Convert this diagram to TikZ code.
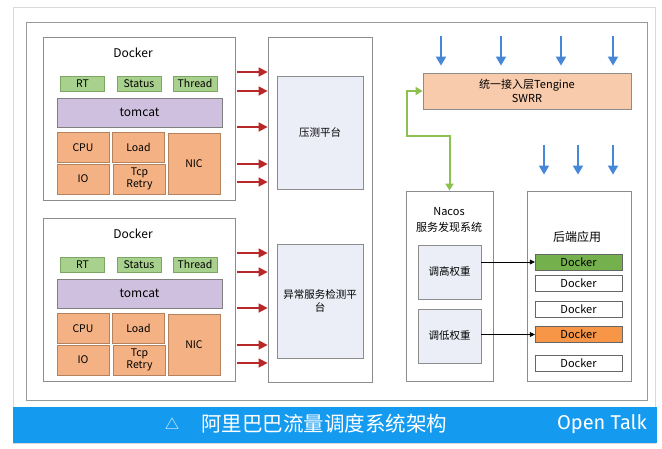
\documentclass[tikz,border=0pt]{standalone}
\usepackage{fontspec}
\setmainfont{Noto Sans CJK SC}
\newfontfamily\talkfont{Fira Sans}
\usetikzlibrary{positioning,arrows.meta}
\definecolor{metricgreen}{RGB}{169,209,142}
\definecolor{metricedge}{RGB}{125,165,100}
\definecolor{tomcatpurple}{RGB}{206,192,222}
\definecolor{resorange}{RGB}{244,177,131}
\definecolor{resedge}{RGB}{180,130,95}
\definecolor{platformfill}{RGB}{236,238,247}
\definecolor{tenginefill}{RGB}{248,203,173}
\definecolor{dockergreen}{RGB}{116,176,75}
\definecolor{dockerorange}{RGB}{247,150,70}
\definecolor{feedred}{RGB}{185,40,40}
\definecolor{inblue}{RGB}{70,135,215}
\definecolor{syncgreen}{RGB}{140,192,80}
\definecolor{barblue}{RGB}{20,155,240}
\begin{document}
\begin{tikzpicture}
    [x=1pt,y=-1pt,
     box/.style={rectangle,draw=black!45,line width=0.8pt,fill=white,inner sep=0pt},
     title/.style={inner sep=0pt,font=\fontsize{12}{14}\selectfont},
     metric/.style={rectangle,draw=metricedge,fill=metricgreen,inner sep=0pt,
       minimum width=44pt,minimum height=15pt,font=\fontsize{10.5}{12}\selectfont},
     tomcat/.style={rectangle,draw=black!50,fill=tomcatpurple,inner sep=0pt,
       minimum width=165pt,minimum height=29pt,font=\fontsize{12}{14}\selectfont},
     res/.style={rectangle,draw=resedge,fill=resorange,inner sep=0pt,align=center,
       minimum width=52pt,minimum height=30pt,font=\fontsize{10.5}{12.5}\selectfont},
     platform/.style={rectangle,draw=black!45,fill=platformfill,inner sep=0pt,align=center,
       minimum width=86pt,font=\fontsize{10.5}{13}\selectfont},
     weight/.style={rectangle,draw=black!45,fill=platformfill,inner sep=0pt,
       minimum width=63pt,minimum height=54pt,font=\fontsize{10.5}{13}\selectfont},
     app/.style={rectangle,draw=black!60,fill=white,inner sep=0pt,
       minimum width=87pt,minimum height=16pt,font=\fontsize{11}{13}\selectfont},
     feed/.style={draw=feedred,line width=1.6pt,-{Triangle[length=9pt,width=9pt]}},
     inflow/.style={draw=inblue,line width=1.8pt,-{Triangle[length=9pt,width=10pt]}},
     sync/.style={draw=syncgreen,line width=2pt,{Triangle[length=7pt,width=8pt]}-{Triangle[length=7pt,width=8pt]}},
     push/.style={draw=black,line width=0.7pt,-{Triangle[length=5pt,width=5pt]}}]

    \useasboundingbox (0,0) rectangle (662,448);
    \draw[black!15] (13,7) rectangle (655,443);
    \draw[black!40,line width=0.8pt] (26,22) rectangle (647,400);
    \fill[barblue] (13,407) rectangle (657,443);

    % platforms in the middle
    \node[box,minimum width=104pt,minimum height=345pt] (frame) at (320,209.5) {};
    \node[platform,minimum height=113pt] (stress) at (320,132.5) {压测平台};
    \node[platform,minimum height=114pt] (detect) at (320,301) {异常服务检测平\\台};

    % the two docker stacks
    \foreach \n/\dy in {1/0,2/181}{
      \begin{scope}[yshift={-\dy pt}]
        \node[box,minimum width=192pt,minimum height=163pt] (docker\n) at (139,118.5) {};
        \node[title] (dtitle\n) at (133,53) {Docker};
        \node[metric] (rt\n) at (82.5,83.5) {RT};
        \node[metric] (status\n) at (139,83.5) {Status};
        \node[metric] (thread\n) at (195,83.5) {Thread};
        \node[tomcat] (tomcat\n) at (139.5,112.5) {tomcat};
        \node[res] (cpu\n) at (83,147.5) {CPU};
        \node[res] (load\n) at (138.5,147.5) {Load};
        \node[res] (io\n) at (83,179) {IO};
        \node[res] (tcp\n) at (139.5,179) {Tcp\\Retry};
        \node[res,minimum height=61pt] (nic\n) at (194,163.5) {NIC};
        \foreach \y in {72,91,127,164,182}
          \draw[feed,shorten <=2pt] (docker\n.east |- 0,\y) -- (frame.west |- 0,\y);
      \end{scope}
    }

    % access layer
    \node[box,fill=tenginefill,align=center,minimum width=208pt,minimum height=36pt,
      font=\fontsize{11}{14}\selectfont] (tengine) at (527,91) {统一接入层Tengine\\SWRR};
    \foreach \x in {441,501,561,613}
      \draw[inflow,shorten >=7pt] ([yshift=37pt]tengine.north -| \x,0) -- (tengine.north -| \x,0);

    % nacos
    \node[box,minimum width=87pt,minimum height=190pt] (nacos) at (449.5,286) {};
    \node[title,align=center,font=\fontsize{11}{16}\selectfont] (nacostitle) at (449,220) {Nacos\\服务发现系统};
    \node[weight] (up) at (449.5,272) {调高权重};
    \node[weight] (down) at (449.5,336) {调低权重};
    \draw[sync] (nacos.north) -- ++(0,-55) -| ([xshift=-16pt]tengine.west) -- (tengine.west);

    % backend
    \node[box,minimum width=104pt,minimum height=190pt] (backend) at (579,286) {};
    \node[title] (backtitle) at (577,237) {后端应用};
    \foreach \x in {544,578,613}
      \draw[inflow,shorten >=16pt] ([yshift=46pt]backend.north -| \x,0) -- (backend.north -| \x,0);
    \node[app,fill=dockergreen] (app1) at (578.5,262) {Docker};
    \node[app] (app2) at (578.5,283) {Docker};
    \node[app] (app3) at (578.5,309) {Docker};
    \node[app,fill=dockerorange] (app4) at (578.5,334.5) {Docker};
    \node[app] (app5) at (578.5,363) {Docker};
    \draw[push] (up.east |- app1.west) -- (app1.west);
    \draw[push] (down.east |- app4.west) -- (app4.west);

    % bottom bar
    \node[text=white,inner sep=0pt,font=\fontsize{14}{16}\selectfont] (mark) at (172,424) {△};
    \node[text=white,inner sep=0pt,anchor=west,font=\fontsize{20.5}{22}\selectfont] (caption) at (201,424) {阿里巴巴流量调度系统架构};
    \node[text=white,inner sep=0pt,anchor=east,font=\talkfont\fontsize{20}{22}\selectfont] (talk) at (647,424) {Open Talk};
\end{tikzpicture}
\end{document}
